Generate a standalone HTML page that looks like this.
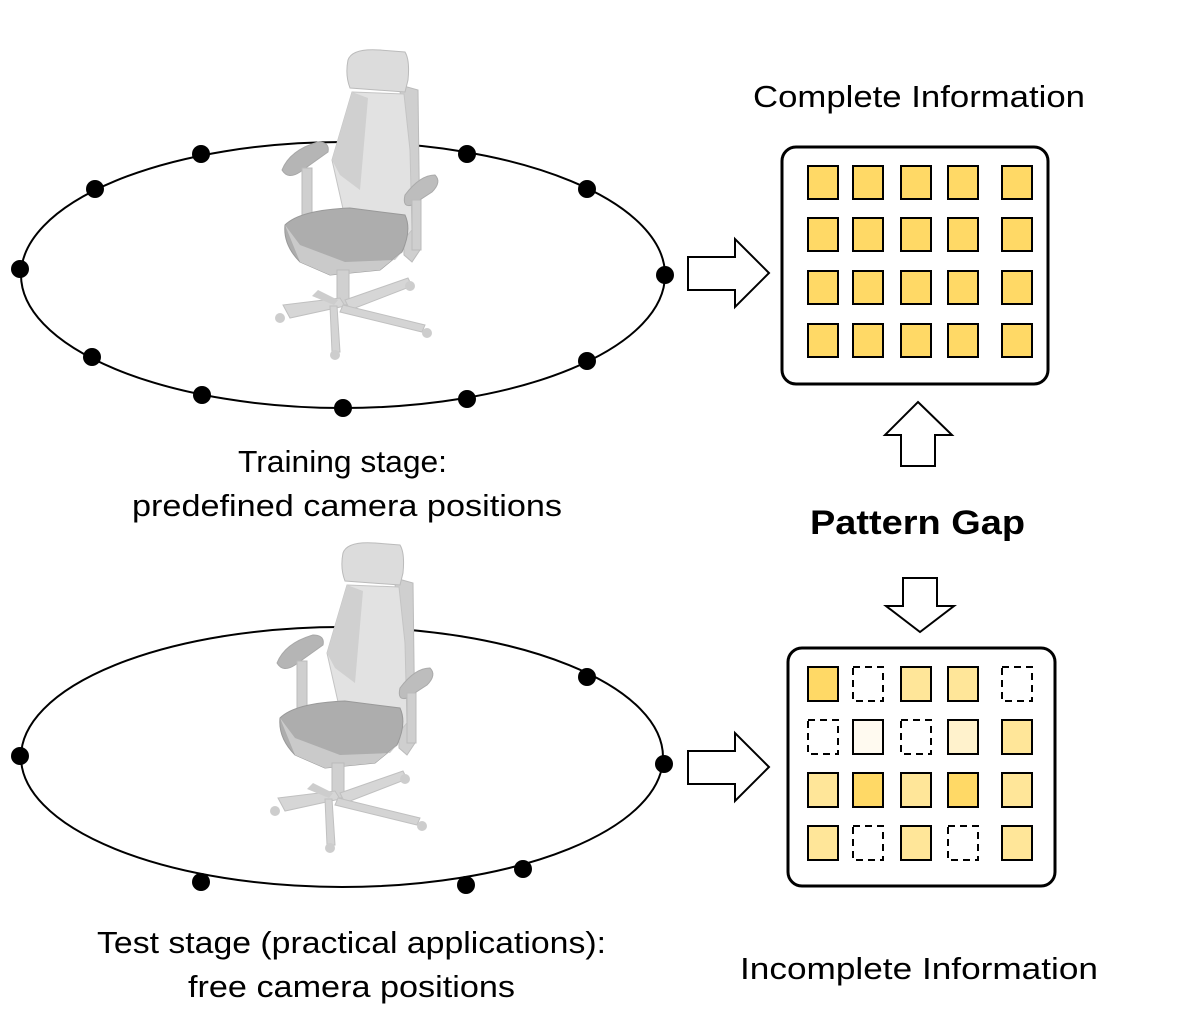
<!DOCTYPE html>
<html><head><meta charset="utf-8"><style>
html,body{margin:0;padding:0;background:#fff;}
svg{display:block;}
text{font-family:"Liberation Sans",sans-serif;fill:#000;}
</style></head><body>
<svg width="1182" height="1032" viewBox="0 0 1182 1032" xmlns="http://www.w3.org/2000/svg">
<defs>
<g id="chair">
  <path d="M400 85 L418 90 L420 250 L412 262 L404 255 Z" fill="#cfcfcf" stroke="#bbb"/>
  <path d="M348 60 Q352 48 380 50 L405 52 Q410 60 408 80 L405 92 L350 88 Q345 75 348 60 Z" fill="#dcdcdc" stroke="#bbb"/>
  <path d="M352 92 L404 94 L410 150 L412 230 L395 250 L350 240 L332 160 Z" fill="#e2e2e2" stroke="#c4c4c4"/>
  <path d="M352 92 L368 98 L360 190 L340 175 L332 160 Z" fill="#d0d0d0"/>
  <path d="M282 170 Q290 150 318 142 Q330 142 328 152 L300 172 Q288 180 282 170 Z" fill="#b5b5b5" stroke="#a8a8a8"/>
  <rect x="302" y="168" width="10" height="50" fill="#cfcfcf" stroke="#bbb"/>
  <path d="M405 195 Q420 175 435 175 Q442 182 432 192 L412 205 Q402 208 405 195 Z" fill="#bdbdbd" stroke="#aaa"/>
  <rect x="412" y="200" width="9" height="50" fill="#cfcfcf" stroke="#bbb"/>
  <path d="M285 225 Q300 210 350 208 L405 215 Q412 230 402 252 L380 270 L330 275 L300 262 Q283 245 285 225 Z" fill="#adadad" stroke="#999"/>
  <path d="M285 225 L300 262 L330 275 L380 270 L402 252 L395 260 L345 262 L300 245 Z" fill="#cacaca"/>
  <rect x="337" y="270" width="12" height="35" fill="#d0d0d0" stroke="#bbb"/>
  <path d="M283 305 L340 298 L345 306 L290 318 Z" fill="#d6d6d6" stroke="#c0c0c0"/>
  <path d="M345 300 L408 278 L412 286 L350 310 Z" fill="#d6d6d6" stroke="#c0c0c0"/>
  <path d="M343 305 L425 325 L422 332 L340 312 Z" fill="#d4d4d4" stroke="#c0c0c0"/>
  <path d="M337 306 L340 352 L332 352 L330 306 Z" fill="#d4d4d4" stroke="#c0c0c0"/>
  <path d="M318 290 L338 300 L334 305 L312 296 Z" fill="#cdcdcd"/>
  <circle cx="280" cy="318" r="5" fill="#cdcdcd"/>
  <circle cx="410" cy="286" r="5" fill="#cdcdcd"/>
  <circle cx="427" cy="333" r="5" fill="#cdcdcd"/>
  <circle cx="335" cy="355" r="5" fill="#cdcdcd"/>
</g>
</defs>

<ellipse cx="343" cy="275" rx="322" ry="133" fill="none" stroke="#000" stroke-width="2"/>
<g fill="#000">
<circle cx="201" cy="154" r="9"/><circle cx="95" cy="189" r="9"/><circle cx="20" cy="269" r="9"/>
<circle cx="92" cy="357" r="9"/><circle cx="202" cy="395" r="9"/><circle cx="343" cy="408" r="9"/>
<circle cx="467" cy="399" r="9"/><circle cx="587" cy="361" r="9"/><circle cx="665" cy="275" r="9"/>
<circle cx="587" cy="189" r="9"/><circle cx="467" cy="154" r="9"/><circle cx="370" cy="143" r="9"/>
</g>
<use href="#chair"/>

<ellipse cx="342" cy="757" rx="321" ry="130" fill="none" stroke="#000" stroke-width="2"/>
<g fill="#000">
<circle cx="20" cy="756" r="9"/><circle cx="201" cy="882" r="9"/><circle cx="466" cy="885" r="9"/>
<circle cx="523" cy="869" r="9"/><circle cx="587" cy="677" r="9"/><circle cx="664" cy="764" r="9"/>
</g>
<use href="#chair" transform="translate(-5,493)"/>

<g fill="#fff" stroke="#000" stroke-width="2">
<path d="M688 257 L735 257 L735 239 L769 273 L735 307 L735 290 L688 290 Z"/>
<path d="M688 751 L735 751 L735 733 L769 767 L735 801 L735 784 L688 784 Z"/>
<path d="M918 402 L952 435 L935 435 L935 466 L901 466 L901 435 L885 435 Z"/>
<path d="M903 578 L937 578 L937 606 L954 606 L920 632 L886 606 L903 606 Z"/>
</g>

<rect x="782" y="147" width="266" height="237" rx="14" fill="#fff" stroke="#000" stroke-width="3"/>
<g fill="#ffd966" stroke="#000" stroke-width="2">
<rect x="808" y="166" width="30" height="33"/><rect x="853" y="166" width="30" height="33"/><rect x="901" y="166" width="30" height="33"/><rect x="948" y="166" width="30" height="33"/><rect x="1002" y="166" width="30" height="33"/>
<rect x="808" y="218" width="30" height="33"/><rect x="853" y="218" width="30" height="33"/><rect x="901" y="218" width="30" height="33"/><rect x="948" y="218" width="30" height="33"/><rect x="1002" y="218" width="30" height="33"/>
<rect x="808" y="271" width="30" height="33"/><rect x="853" y="271" width="30" height="33"/><rect x="901" y="271" width="30" height="33"/><rect x="948" y="271" width="30" height="33"/><rect x="1002" y="271" width="30" height="33"/>
<rect x="808" y="324" width="30" height="33"/><rect x="853" y="324" width="30" height="33"/><rect x="901" y="324" width="30" height="33"/><rect x="948" y="324" width="30" height="33"/><rect x="1002" y="324" width="30" height="33"/>
</g>

<rect x="788" y="648" width="267" height="238" rx="14" fill="#fff" stroke="#000" stroke-width="3"/>
<g stroke="#000" stroke-width="2">
<rect x="808" y="667" width="30" height="34" fill="#ffd966"/>
<rect x="853" y="667" width="30" height="34" fill="#fff" stroke-dasharray="7,5"/>
<rect x="901" y="667" width="30" height="34" fill="#ffe699"/>
<rect x="948" y="667" width="30" height="34" fill="#ffe699"/>
<rect x="1002" y="667" width="30" height="34" fill="#fff" stroke-dasharray="7,5"/>
<rect x="808" y="720" width="30" height="34" fill="#fff" stroke-dasharray="7,5"/>
<rect x="853" y="720" width="30" height="34" fill="#fffaf0"/>
<rect x="901" y="720" width="30" height="34" fill="#fff" stroke-dasharray="7,5"/>
<rect x="948" y="720" width="30" height="34" fill="#fff2cc"/>
<rect x="1002" y="720" width="30" height="34" fill="#ffe699"/>
<rect x="808" y="773" width="30" height="34" fill="#ffe699"/>
<rect x="853" y="773" width="30" height="34" fill="#ffd966"/>
<rect x="901" y="773" width="30" height="34" fill="#ffe699"/>
<rect x="948" y="773" width="30" height="34" fill="#ffd966"/>
<rect x="1002" y="773" width="30" height="34" fill="#ffe699"/>
<rect x="808" y="826" width="30" height="34" fill="#ffe699"/>
<rect x="853" y="826" width="30" height="34" fill="#fff" stroke-dasharray="7,5"/>
<rect x="901" y="826" width="30" height="34" fill="#ffe699"/>
<rect x="948" y="826" width="30" height="34" fill="#fff" stroke-dasharray="7,5"/>
<rect x="1002" y="826" width="30" height="34" fill="#ffe699"/>
</g>

<g font-size="31" lengthAdjust="spacingAndGlyphs">
<text x="753" y="107" textLength="332" lengthAdjust="spacingAndGlyphs">Complete Information</text>
<text x="238" y="472" textLength="209" lengthAdjust="spacingAndGlyphs">Training stage:</text>
<text x="132" y="516" textLength="430" lengthAdjust="spacingAndGlyphs">predefined camera positions</text>
<text x="810" y="534" font-size="34" font-weight="bold" textLength="215" lengthAdjust="spacingAndGlyphs">Pattern Gap</text>
<text x="97" y="953" textLength="509" lengthAdjust="spacingAndGlyphs">Test stage (practical applications):</text>
<text x="188" y="997" textLength="327" lengthAdjust="spacingAndGlyphs">free camera positions</text>
<text x="740" y="979" textLength="358" lengthAdjust="spacingAndGlyphs">Incomplete Information</text>
</g>
</svg>
</body></html>
